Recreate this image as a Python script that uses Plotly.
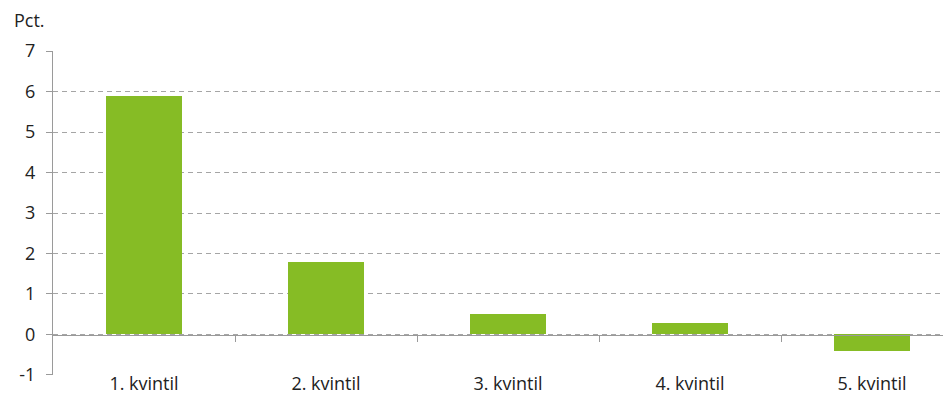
import plotly.graph_objects as go

categories = ["1. kvintil", "2. kvintil", "3. kvintil", "4. kvintil", "5. kvintil"]
values = [5.9, 1.8, 0.5, 0.27, -0.4]
y_ticks = [-1, 0, 1, 2, 3, 4, 5, 6, 7]
y_tick_text = ["-1", "0", "1", "2", "3", "4", "5", "6", "7"]

xpos = list(range(len(categories)))
font = "Open Sans"
grey = "#9a9a9a"
fs = 18

fig = go.Figure()
fig.add_trace(go.Bar(x=xpos, y=values, marker=dict(color="#86bc25", line=dict(width=0)),
                     width=0.415, showlegend=False))
fig.add_trace(go.Scatter(x=[0], y=[0], xaxis="x2", mode="markers",
                         marker=dict(opacity=0), showlegend=False, hoverinfo="skip"))

xr = [-0.5, 4.5 - 12 / 182]
fig.update_layout(
    width=943, height=402,
    margin=dict(l=45, r=0, t=43, b=35),
    paper_bgcolor="white", plot_bgcolor="white",
    font=dict(family=font, size=fs, color="#222"),
    bargap=0,
    xaxis=dict(range=xr, tickvals=xpos, ticktext=categories, showgrid=False, automargin=False,
               zeroline=False, showline=False, ticks="", ticklabelstandoff=-4,
               tickfont=dict(size=fs, color="#222")),
    xaxis2=dict(range=xr, overlaying="x", anchor="free", position=0.125, automargin=False,
                tickvals=[0.5, 1.5, 2.5, 3.5], showticklabels=False, ticks="outside",
                ticklen=6, tickcolor=grey, showline=True, linecolor=grey, linewidth=1.3,
                showgrid=False, zeroline=False),
    yaxis=dict(range=[-1.003, 7.003], tickvals=y_ticks, ticktext=y_tick_text, automargin=False,
               showgrid=True, gridcolor="#a5a5a5",
               griddash="5px,4px", gridwidth=1, zeroline=False, showline=True,
               linecolor=grey, linewidth=1.3, ticks="outside", ticklen=6, tickcolor=grey,
               ticklabelstandoff=7, tickfont=dict(size=fs, color="#222")),
    annotations=[dict(text="Pct.", xref="paper", yref="paper",
                      x=(4 - 45) / 898, y=(367 - 12) / 324, xanchor="left", yanchor="middle",
                      showarrow=False, font=dict(size=fs, color="#222"))],
)
fig.write_html("out.html")
